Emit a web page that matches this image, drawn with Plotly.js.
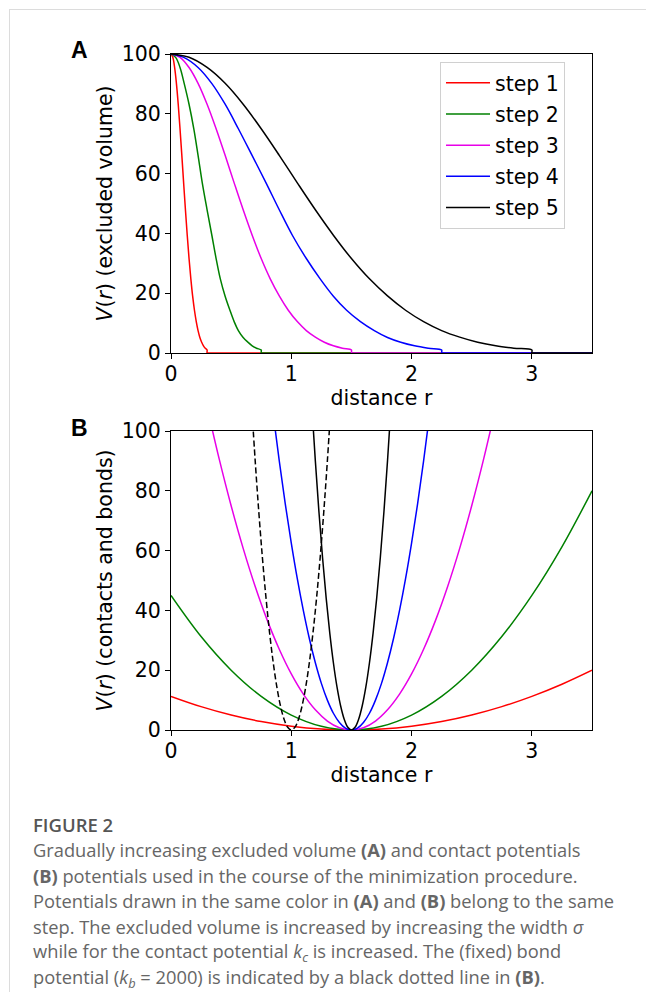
<!DOCTYPE html>
<html>
<head>
<meta charset="utf-8">
<script src="https://cdn.plot.ly/plotly-3.0.1.min.js"></script>
<style>
html,body{margin:0;padding:0;background:#fff;}
#chart{width:646px;height:992px;}
</style>
</head>
<body>
<div id="chart"></div>
<script>
// ---------- Panel A: excluded volume V(r) ----------
const stepNames = ["step 1", "step 2", "step 3", "step 4", "step 5"];
const stepColors = ["#ff0000", "#008000", "#e800e8", "#0000ff", "#000000"];

const rA1 = [0, 0.015, 0.03, 0.045, 0.06, 0.075, 0.09, 0.105, 0.12, 0.135, 0.15, 0.165, 0.18, 0.195, 0.21, 0.225, 0.24, 0.255, 0.27, 0.285, 0.30, 0.30, 0.31, 3.5];
const rA2 = [0, 0.04, 0.075, 0.11, 0.15, 0.19, 0.225, 0.26, 0.30, 0.34, 0.375, 0.41, 0.45, 0.49, 0.525, 0.56, 0.60, 0.64, 0.675, 0.71, 0.75, 0.75, 0.76, 3.5];
const rA3 = [0, 0.075, 0.15, 0.225, 0.30, 0.375, 0.45, 0.525, 0.60, 0.675, 0.75, 0.825, 0.90, 0.975, 1.05, 1.125, 1.20, 1.275, 1.35, 1.425, 1.50, 1.50, 1.51, 3.5];
const rA4 = [0, 0.11, 0.225, 0.34, 0.45, 0.56, 0.675, 0.79, 0.90, 1.01, 1.125, 1.24, 1.35, 1.46, 1.575, 1.69, 1.80, 1.91, 2.025, 2.14, 2.25, 2.25, 2.26, 3.5];
const rA5 = [0, 0.15, 0.30, 0.45, 0.60, 0.75, 0.90, 1.05, 1.20, 1.35, 1.50, 1.65, 1.80, 1.95, 2.10, 2.25, 2.40, 2.55, 2.70, 2.85, 3.00, 3.00, 3.01, 3.5];

const vA1 = [100, 98.9, 95.5, 90.2, 83.2, 75.0, 66.1, 56.9, 47.9, 39.4, 31.6, 24.8, 19.0, 14.3, 10.5, 7.5, 5.2, 3.6, 2.4, 1.6, 1.0, 0, 0, 0];
const vA2 = [100, 98.8, 95.5, 90.1, 83.2, 74.9, 66.1, 56.9, 47.9, 39.3, 31.6, 24.8, 19.0, 14.3, 10.5, 7.5, 5.2, 3.6, 2.4, 1.6, 1.0, 0, 0, 0];
const vA3 = [100, 98.9, 95.5, 90.2, 83.2, 75.0, 66.1, 56.9, 47.9, 39.4, 31.6, 24.8, 19.1, 14.3, 10.5, 7.5, 5.3, 3.6, 2.4, 1.6, 1.0, 0, 0, 0];
const vA4 = [100, 98.8, 95.5, 90.1, 83.2, 75.0, 66.0, 56.9, 47.9, 39.3, 31.6, 24.8, 19.0, 14.3, 10.5, 7.5, 5.2, 3.6, 2.4, 1.6, 1.0, 0, 0, 0];
const vA5 = [100, 98.9, 95.5, 90.2, 83.2, 75.0, 66.1, 56.9, 47.9, 39.4, 31.6, 24.8, 19.1, 14.3, 10.5, 7.5, 5.3, 3.6, 2.4, 1.6, 1.0, 0, 0, 0];

// ---------- Panel B: contact potentials and bond potential ----------
const rB1 = [0, 0.25, 0.5, 0.75, 1.0, 1.25, 1.5, 1.75, 2.0, 2.25, 2.5, 2.75, 3.0, 3.25, 3.5];
const vB1 = [11.25, 7.81, 5.0, 2.81, 1.25, 0.31, 0, 0.31, 1.25, 2.81, 5.0, 7.81, 11.25, 15.31, 20.0];
const rB2 = [0, 0.25, 0.5, 0.75, 1.0, 1.25, 1.5, 1.75, 2.0, 2.25, 2.5, 2.75, 3.0, 3.25, 3.5];
const vB2 = [45.0, 31.25, 20.0, 11.25, 5.0, 1.25, 0, 1.25, 5.0, 11.25, 20.0, 31.25, 45.0, 61.25, 80.0];
const rB3 = [0.3, 0.4, 0.5, 0.6, 0.7, 0.8, 0.9, 1.0, 1.1, 1.2, 1.3, 1.4, 1.5, 1.6, 1.7, 1.8, 1.9, 2.0, 2.1, 2.2, 2.3, 2.4, 2.5, 2.6, 2.7];
const vB3 = [108, 90.75, 75, 60.75, 48, 36.75, 27, 18.75, 12, 6.75, 3, 0.75, 0, 0.75, 3, 6.75, 12, 18.75, 27, 36.75, 48, 60.75, 75, 90.75, 108];
const rB4 = [0.85, 0.9, 0.95, 1.0, 1.05, 1.1, 1.15, 1.2, 1.25, 1.3, 1.35, 1.4, 1.45, 1.5, 1.55, 1.6, 1.65, 1.7, 1.75, 1.8, 1.85, 1.9, 1.95, 2.0, 2.05, 2.1, 2.15];
const vB4 = [105.6, 90, 75.6, 62.5, 50.6, 40, 30.6, 22.5, 15.6, 10, 5.6, 2.5, 0.6, 0, 0.6, 2.5, 5.6, 10, 15.6, 22.5, 30.6, 40, 50.6, 62.5, 75.6, 90, 105.6];
const rB5 = [1.17, 1.20, 1.23, 1.26, 1.29, 1.32, 1.35, 1.38, 1.41, 1.44, 1.47, 1.50, 1.53, 1.56, 1.59, 1.62, 1.65, 1.68, 1.71, 1.74, 1.77, 1.80, 1.83];
const vB5 = [108.9, 90, 72.9, 57.6, 44.1, 32.4, 22.5, 14.4, 8.1, 3.6, 0.9, 0, 0.9, 3.6, 8.1, 14.4, 22.5, 32.4, 44.1, 57.6, 72.9, 90, 108.9];
const rBond = [0.67, 0.70, 0.73, 0.76, 0.79, 0.82, 0.85, 0.88, 0.91, 0.94, 0.97, 1.00, 1.03, 1.06, 1.09, 1.12, 1.15, 1.18, 1.21, 1.24, 1.27, 1.30, 1.33];
const vBond = [108.9, 90, 72.9, 57.6, 44.1, 32.4, 22.5, 14.4, 8.1, 3.6, 0.9, 0, 0.9, 3.6, 8.1, 14.4, 22.5, 32.4, 44.1, 57.6, 72.9, 90, 108.9];

const xTicks = [0, 1, 2, 3];
const yTicks = [0, 20, 40, 60, 80, 100];
const xTitle = "distance r";
const yTitleA = "<i>V</i>(<i>r</i>) (excluded volume)";
const yTitleB = "<i>V</i>(<i>r</i>) (contacts and bonds)";

const captionLines = [
  "Gradually increasing excluded volume <b>(A)</b> and contact potentials",
  "<b>(B)</b> potentials used in the course of the minimization procedure.",
  "Potentials drawn in the same color in <b>(A)</b> and <b>(B)</b> belong to the same",
  "step. The excluded volume is increased by increasing the width <i>σ</i>",
  "while for the contact potential <i>k<sub>c</sub></i> is increased. The (fixed) bond",
  "potential (<i>k<sub>b</sub></i> = 2000) is indicated by a black dotted line in <b>(B)</b>."
];

// ---------- build ----------
const W = 646, H = 992;
const px = x => x / W;
const py = y => 1 - y / H;

const rA = [rA1, rA2, rA3, rA4, rA5];
const vA = [vA1, vA2, vA3, vA4, vA5];
const rB = [rB1, rB2, rB3, rB4, rB5];
const vB = [vB1, vB2, vB3, vB4, vB5];

const traces = [];
for (let i = 0; i < 5; i++) {
  traces.push({
    x: rA[i], y: vA[i], type: "scatter", mode: "lines", name: stepNames[i],
    line: {color: stepColors[i], width: 1.5, shape: "spline", smoothing: 1},
    xaxis: "x", yaxis: "y", legendgroup: "g" + i
  });
}
for (let i = 0; i < 5; i++) {
  traces.push({
    x: rB[i], y: vB[i], type: "scatter", mode: "lines", name: stepNames[i],
    line: {color: stepColors[i], width: 1.5, shape: "spline", smoothing: 1},
    xaxis: "x2", yaxis: "y2", showlegend: false
  });
}
traces.push({
  x: rBond, y: vBond, type: "scatter", mode: "lines", name: "bond",
  line: {color: "#000000", width: 1.5, dash: "6px,3px", shape: "spline", smoothing: 1},
  xaxis: "x2", yaxis: "y2", showlegend: false
});

const tickFont = {family: "DejaVu Sans", size: 20.5, color: "#000"};
const titleFont = {family: "DejaVu Sans", size: 20.5, color: "#000"};

function xAxis(anchor) {
  return {
    anchor: anchor, domain: [px(171), px(592)], range: [0, 3.5],
    tickvals: xTicks, ticktext: xTicks.map(String),
    ticks: "outside", ticklen: 5, tickwidth: 1, tickcolor: "#000",
    ticklabelstandoff: -3,
    showline: true, linecolor: "#000", linewidth: 1, mirror: true,
    showgrid: false, zeroline: false, tickfont: tickFont,
    title: {text: xTitle, font: titleFont, standoff: 0},
    automargin: false, layer: "below traces", fixedrange: true
  };
}
function yAxis(anchor, dom, title) {
  return {
    anchor: anchor, domain: dom, range: [0, 100],
    tickvals: yTicks, ticktext: yTicks.map(String),
    ticks: "outside", ticklen: 5, tickwidth: 1, tickcolor: "#000",
    showline: true, linecolor: "#000", linewidth: 1, mirror: true,
    showgrid: false, zeroline: false, tickfont: tickFont,
    title: {text: title, font: titleFont, standoff: 3},
    automargin: false, layer: "below traces", fixedrange: true
  };
}

const annotations = [
  {text: "<b>A</b>", x: px(79), y: py(50), xref: "paper", yref: "paper", showarrow: false,
   xanchor: "center", yanchor: "middle", font: {family: "Liberation Sans", size: 23, color: "#000"}},
  {text: "<b>B</b>", x: px(79), y: py(428), xref: "paper", yref: "paper", showarrow: false,
   xanchor: "center", yanchor: "middle", font: {family: "Liberation Sans", size: 23, color: "#000"}},
  {text: "FIGURE 2", x: px(32), y: py(824), xref: "paper", yref: "paper", showarrow: false,
   xanchor: "left", yanchor: "middle", borderpad: 0,
   font: {family: "Open Sans", size: 18.5, color: "#555", weight: 600}}
];
const lineY = [849, 875, 900, 926, 952, 978];
captionLines.forEach((t, i) => {
  annotations.push({text: t, x: px(32), y: py(lineY[i]), xref: "paper", yref: "paper", showarrow: false,
    xanchor: "left", yanchor: "middle", align: "left", borderpad: 0,
    font: {family: "Open Sans", size: 18.3, color: "#666"}});
});

const layout = {
  width: W, height: H,
  margin: {l: 0, r: 0, t: 0, b: 0, pad: 0},
  paper_bgcolor: "#fff", plot_bgcolor: "#fff",
  showlegend: true,
  legend: {
    x: px(440), y: py(62), xanchor: "left", yanchor: "top",
    bgcolor: "#fff", bordercolor: "#d0d0d0", borderwidth: 1,
    font: {family: "DejaVu Sans", size: 20.5, color: "#000"},
    tracegroupgap: 1.5, itemwidth: 44
  },
  xaxis: xAxis("y"),
  yaxis: yAxis("x", [py(353), py(54)], yTitleA),
  xaxis2: xAxis("y2"),
  yaxis2: yAxis("x2", [py(730), py(431)], yTitleB),
  annotations: annotations,
  shapes: [
    {type: "line", xref: "paper", yref: "paper", x0: px(9), x1: 1, y0: py(9.5), y1: py(9.5),
     line: {color: "#dcdcdc", width: 1}},
    {type: "line", xref: "paper", yref: "paper", x0: px(9.5), x1: px(9.5), y0: py(9), y1: 0,
     line: {color: "#dcdcdc", width: 1}}
  ]
};

Plotly.newPlot("chart", traces, layout, {staticPlot: true, displayModeBar: false});
</script>
</body>
</html>
